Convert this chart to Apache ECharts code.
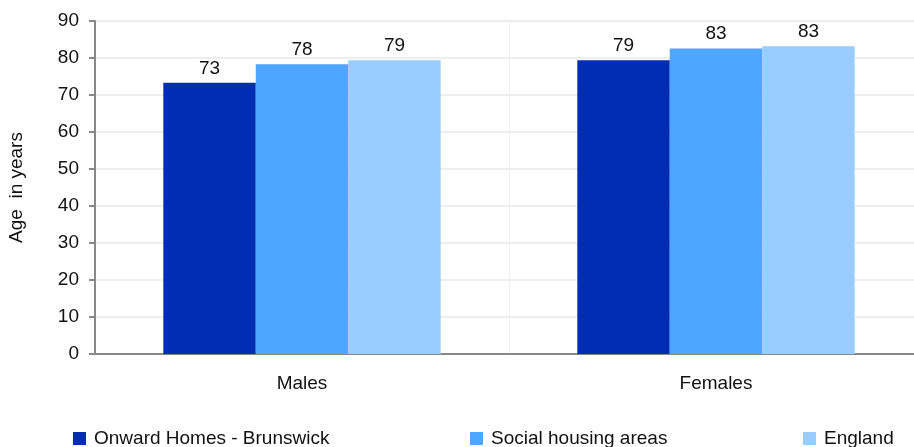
<!DOCTYPE html>
<html><head><meta charset="utf-8">
<script src="https://cdn.jsdelivr.net/npm/echarts@6/dist/echarts.min.js"></script>
<style>html,body{margin:0;padding:0;background:#fff}#c{width:914px;height:447px}</style>
</head><body><div id="c"></div>
<script>
const categories = ['Males', 'Females'];
const seriesNames = ['Onward Homes - Brunswick', 'Social housing areas', 'England'];
const onward = [73.3, 79.4];
const social = [78.3, 82.6];
const england = [79.4, 83.2];
const colors = ['#002db3', '#4da6ff', '#99ccff'];
const font = 'Liberation Sans, Arial, sans-serif';
const chart = echarts.init(document.getElementById('c'));
const mk = (name, data, i) => ({
  name, type: 'bar', data, barGap: 0, barCategoryGap: '33%',
  itemStyle: { color: colors[i] },
  label: { show: true, position: 'top', distance: 5, color: '#111', fontSize: 19, fontFamily: font,
    formatter: p => Math.round(p.value) }
});
const legendPos = [68, 465, 798];
chart.setOption({
  animation: false,
  grid: { left: 95, right: -9, top: 21, bottom: 93, outerBoundsMode: 'none', containLabel: false },
  legend: seriesNames.map((n, i) => ({
    data: [n], left: legendPos[i], top: 424, itemWidth: 13, itemHeight: 13, itemGap: 0,
    icon: 'rect', textStyle: { fontSize: 19, fontFamily: font, color: '#111', padding: [0, 0, 0, 3] }
  })),
  xAxis: {
    type: 'category', data: categories,
    axisLine: { lineStyle: { color: '#888', width: 2 } },
    axisTick: { show: false },
    splitLine: { show: true, lineStyle: { color: '#eee' } },
    axisLabel: { fontSize: 19, fontFamily: font, color: '#111', margin: 20 }
  },
  yAxis: {
    type: 'value', min: 0, max: 90, interval: 10,
    name: 'Age  in years', nameLocation: 'middle', nameGap: 69, nameRotate: 90,
    nameTextStyle: { fontSize: 19, fontFamily: font, color: '#111' },
    axisLine: { show: true, lineStyle: { color: '#888', width: 2 } },
    axisTick: { show: true, length: 6, lineStyle: { color: '#888', width: 2 } },
    splitLine: { lineStyle: { color: '#eee', width: 2 } },
    axisLabel: { fontSize: 19, fontFamily: font, color: '#111', margin: 16 }
  },
  series: [mk(seriesNames[0], onward, 0), mk(seriesNames[1], social, 1), mk(seriesNames[2], england, 2)]
});
</script></body></html>
